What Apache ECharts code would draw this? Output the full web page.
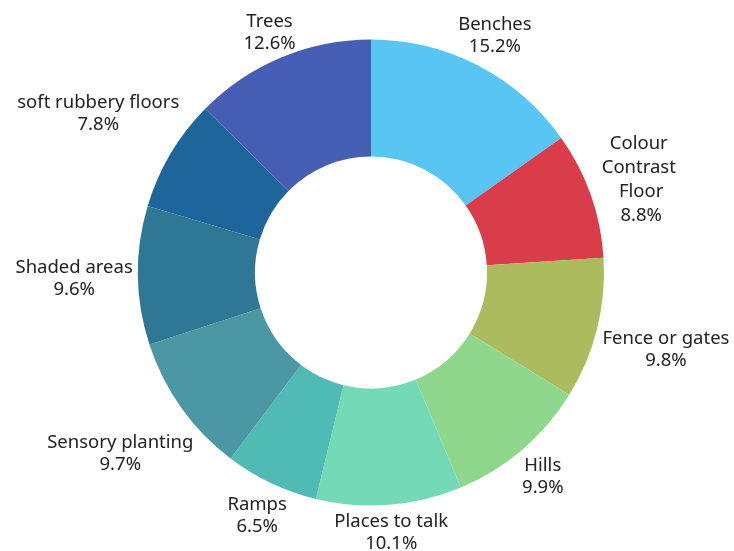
<!DOCTYPE html>
<html>
<head>
<meta charset="utf-8">
<title>Playground features</title>
<script src="https://cdn.jsdelivr.net/npm/echarts@6/dist/echarts.min.js"></script>
<style>
  html, body { margin: 0; padding: 0; background: #ffffff; }
  #chart { width: 734px; height: 551px; }
</style>
</head>
<body>
<div id="chart"></div>
<script>
// Share of responses per playground feature (percent), clockwise from the top
const categories = [
  'Benches', 'Colour Contrast Floor', 'Fence or gates', 'Hills', 'Places to talk',
  'Ramps', 'Sensory planting', 'Shaded areas', 'soft rubbery floors', 'Trees'
];
const shares = [15.2, 8.8, 9.8, 9.9, 10.1, 6.5, 9.7, 9.6, 7.8, 12.6];
const sliceColors = [
  '#58C5F2', '#D93D4A', '#ABBB5E', '#8ED78C', '#74D9B7',
  '#50BAB5', '#4B97A3', '#2E7795', '#1E659C', '#465EB4'
];

const chart = echarts.init(document.getElementById('chart'), null, { renderer: 'canvas' });

const CENTER = [371, 272.5];
const R_IN = 116;
const R_OUT = 233;

// Place each label just outside the ring, centred on the slice's mid-angle
function placeLabel(params) {
  const data = chart.getModel().getSeriesByIndex(0).getData();
  const lay = data.getItemLayout(params.dataIndex);
  const mid = (lay.startAngle + lay.endAngle) / 2;
  const ux = Math.cos(mid), uy = Math.sin(mid);
  const hw = params.labelRect.width / 2;
  const hh = Math.min(params.labelRect.height / 2, 22);
  const d = lay.r + 1 + Math.abs(ux) * (hw + 4) + Math.abs(uy) * (hh - 3);
  return {
    x: lay.cx + ux * d,
    y: lay.cy + uy * d + 3,
    align: 'center',
    verticalAlign: 'middle'
  };
}

const seriesData = categories.map((name, i) => {
  const item = { name: name, value: shares[i], itemStyle: { color: sliceColors[i] } };
  if (name === 'Colour Contrast Floor') {
    item.label = { width: 90, overflow: 'break', lineHeight: 24 };
  }
  return item;
});

chart.setOption({
  backgroundColor: '#ffffff',
  animation: false,
  series: [{
    type: 'pie',
    center: CENTER,
    radius: [R_IN, R_OUT],
    startAngle: 90,
    clockwise: true,
    avoidLabelOverlap: false,
    itemStyle: { borderWidth: 0 },
    label: {
      show: true,
      position: 'outside',
      formatter: p => p.name + '\n' + p.value.toFixed(1) + '%',
      fontFamily: 'Noto Sans',
      fontSize: 18.5,
      lineHeight: 22,
      color: '#222222',
      align: 'center'
    },
    labelLine: { show: false, length: 0, length2: 0 },
    labelLayout: placeLabel,
    emphasis: { disabled: true },
    data: seriesData
  }]
});
</script>
</body>
</html>
